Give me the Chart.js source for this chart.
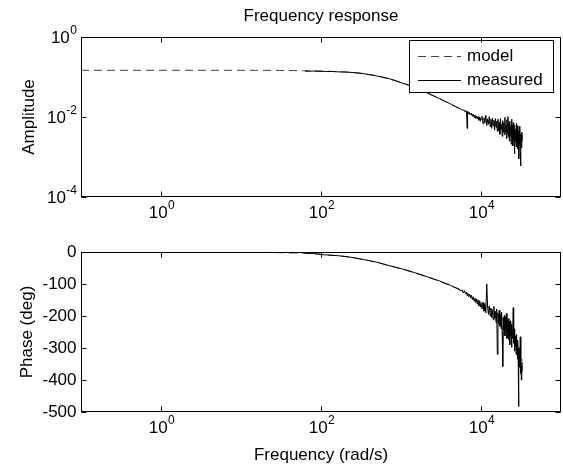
<!DOCTYPE html>
<html><head><meta charset="utf-8">
<script src="https://cdn.jsdelivr.net/npm/chart.js@4/dist/chart.umd.min.js"></script>
<style>
html,body{margin:0;padding:0;background:#fff;}
#wrap{position:relative;width:563px;height:468px;overflow:hidden;}
canvas{position:absolute;left:0;}
</style></head><body>
<div id="wrap">
<canvas id="amp" style="top:0px"></canvas>
<canvas id="ph" style="top:234px"></canvas>
</div>
<script>
// ---------- data ----------
const titleText = 'Frequency response';
const ampLabel = 'Amplitude';
const phaseLabel = 'Phase (deg)';
const freqLabel = 'Frequency (rad/s)';
const seriesNames = ['model', 'measured'];

const xTickValues = [1, 100, 10000];
const xTickExponents = ['0', '2', '4'];
const ampTickValues = [1, 0.01, 0.0001];
const ampTickExponents = ['0', '-2', '-4'];
const phaseTickValues = [0, -100, -200, -300, -400, -500];

const freqModel = [0.1, 1, 10, 30, 60, 100, 200, 300, 500, 1000, 2000, 3000, 5000, 8000, 10000, 15000, 20000, 25000, 30000, 32800];
const ampModel = [0.147, 0.147, 0.147, 0.146, 0.144, 0.141, 0.134, 0.126, 0.107, 0.073, 0.043, 0.029, 0.0175, 0.0108, 0.0089, 0.0062, 0.0049, 0.0040, 0.0034, 0.0031];
const phaseModel = [0, -0.1, -0.8, -2, -4, -7, -14, -21, -32, -52, -76, -91, -114, -140, -157, -190, -220, -250, -300, -340];

const freqMeasured = [
  63, 70, 80, 90, 100, 115, 130, 150, 170, 200,
  230, 260, 300, 350, 400, 450, 500, 570, 650, 750,
  850, 1000, 1150, 1300, 1500, 1700, 2000, 2300, 2600, 3000,
  3300, 3600, 4000, 4300, 4600, 5000,
  5300, 5600, 5800, 6000, 6200, 6400, 6600, 6700, 6800, 7000,
  7200, 7400, 7600, 7800, 8000, 8200, 8400, 8600, 8800, 9000,
  9200, 9400, 9600, 9800, 10000,
  10300, 10600, 10900, 11200, 11500, 11800, 12100, 12400, 12700, 13000,
  13300, 13600, 13900, 14200, 14500, 14800, 15100, 15400, 15700, 16000,
  16300, 16600, 16900, 17200, 17500, 17800, 18100, 18400, 18700, 19000,
  19300, 19600, 19900, 20200, 20500, 20800, 21100, 21400, 21700, 22000,
  22300, 22600, 22900, 23200, 23500, 23800, 24100, 24400, 24700, 25000,
  25300, 25600, 25900, 26200, 26500, 26800, 27100, 27400, 27700, 28000,
  28300, 28600, 28900, 29200, 29500, 29800, 30100, 30400, 30700, 31000,
  31300, 31600, 31900, 32200, 32500, 32800
];
const ampMeasured = [
  0.140, 0.139, 0.141, 0.138, 0.139, 0.137, 0.138, 0.136, 0.134, 0.133,
  0.131, 0.128, 0.125, 0.120, 0.115, 0.110, 0.106, 0.101, 0.095, 0.088,
  0.082, 0.072, 0.066, 0.061, 0.055, 0.050, 0.043, 0.037, 0.033, 0.029,
  0.0265, 0.0245, 0.0220, 0.0205, 0.0190, 0.0175,
  0.0166, 0.0160, 0.0148, 0.0152, 0.0141, 0.0146, 0.0135, 0.0052, 0.0140, 0.0118,
  0.0130, 0.0112, 0.0125, 0.0104, 0.0118, 0.0097, 0.0112, 0.0092, 0.0106, 0.0089,
  0.0102, 0.0083, 0.0098, 0.0078, 0.0095,
  0.0105, 0.0068, 0.0096, 0.0072, 0.0110, 0.0061, 0.0090, 0.0066, 0.0102, 0.0058,
  0.0089, 0.0052, 0.0095, 0.0060, 0.0083, 0.0047, 0.0091, 0.0055, 0.0078, 0.0044,
  0.0088, 0.0046, 0.0074, 0.0037, 0.0092, 0.0049, 0.0067, 0.0033, 0.0081, 0.0042,
  0.0072, 0.0036, 0.0098, 0.0041, 0.0063, 0.0029, 0.0085, 0.0038, 0.0102, 0.0032,
  0.0068, 0.0025, 0.0079, 0.0034, 0.0058, 0.0021, 0.0088, 0.0030, 0.0061, 0.0019,
  0.0072, 0.0027, 0.0055, 0.0012, 0.0064, 0.0024, 0.0049, 0.0018, 0.0070, 0.0022,
  0.0052, 0.0016, 0.0061, 0.0025, 0.0045, 0.0009, 0.0058, 0.0020, 0.0043, 0.0014,
  0.0006, 0.0038, 0.0017, 0.0042, 0.0024, 0.0036
];
const phaseMeasured = [
  -3, -4, -5, -6, -8, -9, -10, -11, -12, -14,
  -16, -18, -21, -24, -27, -30, -32, -36, -40, -44,
  -48, -52, -56, -60, -65, -69, -75, -80, -85, -90,
  -94, -98, -102, -106, -109, -113,
  -115, -122, -118, -128, -121, -131, -126, -136, -129, -140,
  -132, -144, -136, -149, -140, -153, -144, -158, -148, -163,
  -152, -168, -156, -172, -160,
  -178, -158, -185, -163, -190, -100, -172, -195, -168, -200,
  -175, -205, -180, -212, -170, -208, -185, -220, -178, -320,
  -190, -225, -182, -232, -195, -240, -188, -250, -358, -205,
  -245, -198, -262, -205, -238, -192, -270, -215, -250, -208,
  -275, -220, -290, -215, -260, -232, -298, -225, -270, -240,
  -174, -285, -240, -310, -255, -295, -262, -320, -258, -300,
  -290, -335, -275, -350, -483, -300, -360, -310, -345, -265,
  -380, -330, -400, -355, -375, -345
];

// ---------- helpers ----------
const FONT = '"Liberation Sans", Arial, Helvetica, sans-serif';
const FS = 17, FSE = 12;
function pts(xs, ys) { return xs.map((x, i) => ({ x: x, y: ys[i] })); }

function drawPow(ctx, x, y, base, exp, align) {
  ctx.font = FS + 'px ' + FONT;
  const wb = ctx.measureText(base).width;
  ctx.font = FSE + 'px ' + FONT;
  const we = ctx.measureText(exp).width;
  const x0 = align === 'center' ? x - (wb + we) / 2 : x - wb - we;
  ctx.textAlign = 'left';
  ctx.textBaseline = 'middle';
  ctx.font = FS + 'px ' + FONT;
  ctx.fillText(base, x0, y);
  ctx.font = FSE + 'px ' + FONT;
  ctx.fillText(exp, x0 + wb + 0.5, y - 8);
}

const matlabAxes = {
  id: 'matlabAxes',
  afterDraw(chart, args, o) {
    const ctx = chart.ctx, a = chart.chartArea;
    const xs = chart.scales.x, ys = chart.scales.y;
    const L = Math.round(a.left) + 0.5, R = Math.round(a.right) - 0.5;
    const T = Math.round(a.top) + 0.5, B = Math.round(a.bottom) - 0.5;
    ctx.save();
    ctx.strokeStyle = '#000';
    ctx.fillStyle = '#000';
    ctx.lineWidth = 1;
    const seg = (x1, y1, x2, y2) => { ctx.beginPath(); ctx.moveTo(x1, y1); ctx.lineTo(x2, y2); ctx.stroke(); };
    const TL = 5;
    // legend
    if (o.legend) {
      const lx = 409.5, ly = 40.5, lw = 144, lh = 52;
      ctx.fillStyle = '#fff';
      ctx.fillRect(lx, ly, lw, lh);
      ctx.strokeRect(lx, ly, lw, lh);
      ctx.fillStyle = '#000';
      ctx.setLineDash([8, 5]);
      ctx.strokeStyle = '#444';
      seg(418, 56.5, 461, 56.5);
      ctx.setLineDash([]);
      ctx.strokeStyle = '#000';
      seg(418, 80.5, 461, 80.5);
      ctx.font = FS + 'px ' + FONT;
      ctx.textAlign = 'left';
      ctx.textBaseline = 'middle';
      ctx.fillText(seriesNames[0], 467, 56);
      ctx.fillText(seriesNames[1], 467, 80);
    }
    // box
    ctx.strokeRect(L, T, R - L, B - T);
    // x ticks + labels
    xTickValues.forEach((v, i) => {
      const px = Math.round(xs.getPixelForValue(v)) + 0.5;
      seg(px, T, px, T + TL);
      seg(px, B, px, B - TL);
      drawPow(ctx, px, B + 17, '10', xTickExponents[i], 'center');
    });
    // y ticks + labels
    o.yTicks.forEach((v, i) => {
      const py = Math.round(ys.getPixelForValue(v)) + 0.5;
      seg(L, py, L + TL, py);
      seg(R, py, R - TL, py);
      if (o.yExp) {
        drawPow(ctx, L - 5, py + 1, '10', o.yExp[i], 'right');
      } else {
        ctx.font = FS + 'px ' + FONT;
        ctx.textAlign = 'right';
        ctx.textBaseline = 'middle';
        ctx.fillText(String(v), L - 5, py);
      }
    });
    // axis label (rotated)
    ctx.save();
    ctx.translate(o.yLabelX, (a.top + a.bottom) / 2);
    ctx.rotate(-Math.PI / 2);
    ctx.font = FS + 'px ' + FONT;
    ctx.textAlign = 'center';
    ctx.textBaseline = 'middle';
    ctx.fillText(o.yLabel, 0, 0);
    ctx.restore();
    ctx.font = FS + 'px ' + FONT;
    ctx.textAlign = 'center';
    ctx.textBaseline = 'middle';
    if (o.title) ctx.fillText(o.title, (a.left + a.right) / 2, 16);
    if (o.xLabel) ctx.fillText(o.xLabel, (a.left + a.right) / 2, a.bottom + 43);
    ctx.restore();
  }
};

function makeChart(id, padding, yScale, modelY, measY, plug) {
  const cv = document.getElementById(id);
  cv.width = 563; cv.height = 234;
  return new Chart(cv, {
    type: 'line',
    data: {
      datasets: [
        { label: seriesNames[1], data: pts(freqMeasured, measY), borderColor: '#000', borderWidth: 1, pointRadius: 0, tension: 0, fill: false, order: 0 },
        { label: seriesNames[0], data: pts(freqModel, modelY), borderColor: '#444', borderWidth: 1, borderDash: [8, 5], pointRadius: 0, tension: 0, fill: false, order: 1 }
      ]
    },
    options: {
      responsive: false,
      animation: false,
      devicePixelRatio: 1,
      layout: { padding: padding },
      scales: {
        x: { type: 'logarithmic', min: 0.1, max: 100000, display: false },
        y: yScale
      },
      plugins: { legend: { display: false }, tooltip: { enabled: false }, title: { display: false }, matlabAxes: plug }
    },
    plugins: [matlabAxes]
  });
}

makeChart('amp', { left: 81, right: 2, top: 37, bottom: 37 },
  { type: 'logarithmic', min: 0.0001, max: 1, display: false },
  ampModel, ampMeasured,
  { legend: true, yTicks: ampTickValues, yExp: ampTickExponents, yLabel: ampLabel, yLabelX: 29, title: titleText });

makeChart('ph', { left: 81, right: 2, top: 18, bottom: 56 },
  { type: 'linear', min: -500, max: 0, display: false },
  phaseModel, phaseMeasured,
  { legend: false, yTicks: phaseTickValues, yExp: null, yLabel: phaseLabel, yLabelX: 27, xLabel: freqLabel });
</script>
</body></html>
